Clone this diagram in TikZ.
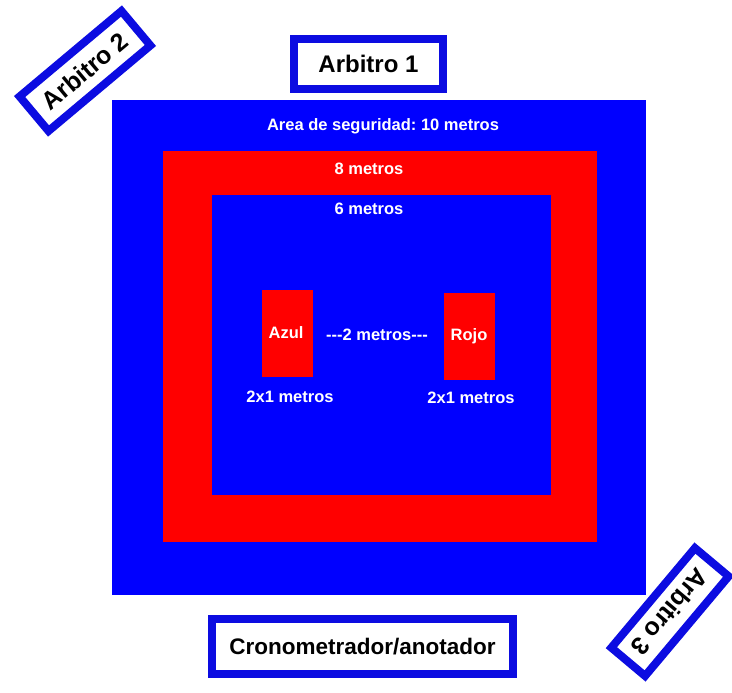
\documentclass[tikz,border=0pt]{standalone}
\usepackage{fontspec}
\setmainfont{Liberation Sans}
\definecolor{fieldblue}{RGB}{0,0,255}
\definecolor{fieldred}{RGB}{255,0,0}
\definecolor{frameblue}{RGB}{12,12,225}
\frenchspacing
\newcommand{\hy}{-\kern0pt}
\begin{document}
\begin{tikzpicture}[x=1pt,y=-1pt,
  judge/.style={draw=frameblue, line width=8pt, fill=white, text=black,
    font=\bfseries\fontsize{24}{26}\selectfont, inner sep=0pt},
  lbl/.style={text=white, font=\bfseries\fontsize{16.5}{18}\selectfont, inner sep=0pt}]
\useasboundingbox (0,0) rectangle (732,693);
\clip (0,0) rectangle (732,693);

% competition area: safety zone, 8 m and 6 m squares
\fill[fieldblue] (112,100) rectangle (646,595);
\fill[fieldred]  (163,151) rectangle (597,542);
\fill[fieldblue] (212,195) rectangle (551,495);

% starting marks of the two competitors
\fill[fieldred] (262,290) rectangle (313,377);
\fill[fieldred] (444,293) rectangle (495,380);

\node[lbl] (safety) at (383,126) {Area de seguridad: 10 metros};
\node[lbl] (eight)  at (369,169) {8 metros};
\node[lbl] (six)    at (369,209) {6 metros};
\node[lbl] (azul)   at (286,333) {Azul};
\node[lbl] (gap)    at (377,335) {\hy\hy\hy2 metros\hy\hy\hy};
\node[lbl] (rojo)   at (469,336) {Rojo};
\node[lbl] (azsize) at (290,397) {2x1 metros};
\node[lbl] (rjsize) at (471,398) {2x1 metros};

% officials
\node[judge, minimum width=149pt, minimum height=50pt] (ref1) at (368.5,64) {Arbitro 1};
\node[judge, minimum width=133pt, minimum height=45pt, rotate=40,
  font=\bfseries\fontsize{25}{27}\selectfont] (ref2) at (85,71) {Arbitro 2};
\node[judge, minimum width=130pt, minimum height=44pt, rotate=230,
  font=\bfseries\fontsize{25}{27}\selectfont] (ref3) at (670,612) {Arbitro 3};
\node[judge, minimum width=301pt, minimum height=55pt,
  font=\bfseries\fontsize{22.5}{24}\selectfont] (timer) at (362.5,646.5) {Cronometrador/anotador};
\end{tikzpicture}
\end{document}
